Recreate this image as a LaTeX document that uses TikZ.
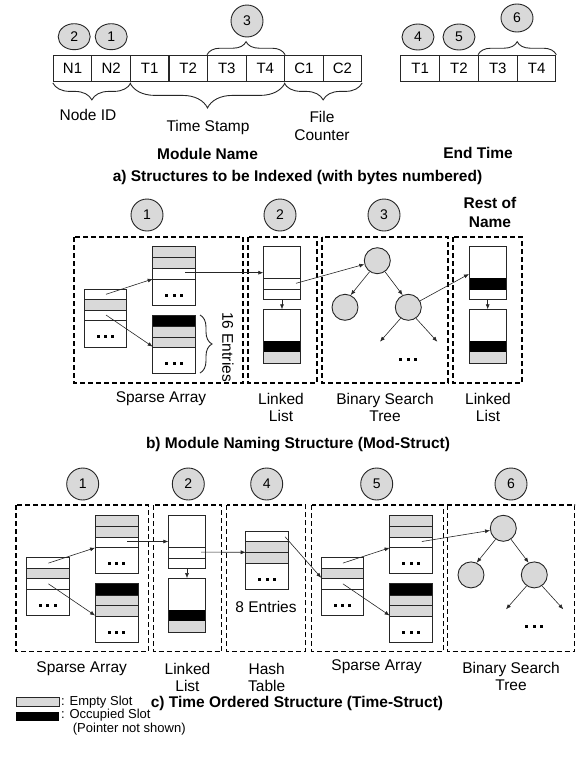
\documentclass[tikz,border=0pt]{standalone}
\usepackage{fontspec}
\setmainfont{Liberation Sans}
\usetikzlibrary{arrows.meta,decorations.pathreplacing,shapes.geometric}
\definecolor{slot}{HTML}{D9D9D9}
\definecolor{ink}{HTML}{262626}
\tikzset{
  box/.style={draw=ink, line width=0.9pt},
  dbox/.style={draw=black, line width=1.1pt, dash pattern=on 5pt off 3pt},
  conn/.style={draw=ink, line width=0.6pt, -{Latex[length=5pt,width=4pt]}},
  num/.style={circle, draw=ink, fill=slot, line width=0.9pt, minimum size=32pt, inner sep=0pt, font=\fontsize{14}{16}\selectfont},
  numov/.style={ellipse, draw=ink, fill=slot, line width=0.9pt, minimum width=32pt, minimum height=26pt, inner sep=0pt, font=\fontsize{14}{16}\selectfont},
  cell/.style={rectangle, draw=ink, line width=0.9pt, minimum width=38.6pt, minimum height=26.3pt, inner sep=0pt, font=\fontsize{15}{17}\selectfont},
  lbl/.style={font=\fontsize{15.5}{17}\selectfont, align=center, inner sep=0pt},
  ttl/.style={font=\fontsize{15.5}{19}\selectfont\bfseries, align=center, inner sep=0pt},
  leg/.style={font=\fontsize{13}{14}\selectfont, inner sep=0pt, anchor=west},
  brc/.style={decorate, decoration={brace, amplitude=#1}, draw=ink, line width=0.9pt},
  tnode/.style={circle, draw=ink, fill=slot, line width=0.9pt, minimum size=26pt, inner sep=0pt},
  threedots/.pic={\foreach \i in {-7.3,0,7.3} \fill[black] (\i-1.5,-1.5) rectangle (\i+1.5,1.5);}
}
% sparse array group: #1 shift, #2 prefix
\newcommand{\sparsegroup}[2]{%
\begin{scope}[shift={#1}]
  \fill[slot] (84.3,299.3) rectangle (126.7,310);
  \draw[box] (84.3,289) rectangle (126.7,347);
  \draw[box] (84.3,299.3) -- (126.7,299.3) (84.3,310) -- (126.7,310) (84.3,320.7) -- (126.7,320.7);
  \pic at (105.5,336.7) {threedots};
  \fill[slot] (152.7,246.7) rectangle (195.7,268.3);
  \draw[box] (152.7,246.7) rectangle (195.7,305);
  \draw[box] (152.7,257.7) -- (195.7,257.7) (152.7,268.3) -- (195.7,268.3) (152.7,279) -- (195.7,279);
  \pic at (174.2,295) {threedots};
  \fill[black] (152.7,315) rectangle (195.7,326.7);
  \fill[slot] (152.7,326.7) rectangle (195.7,347.3);
  \draw[box] (152.7,315) rectangle (195.7,373.3);
  \draw[box] (152.7,326.7) -- (195.7,326.7) (152.7,337) -- (195.7,337) (152.7,347.3) -- (195.7,347.3);
  \pic at (174.2,363.3) {threedots};
  \coordinate (#2s1) at (106,294.3);
  \coordinate (#2s3) at (106,315);
  \coordinate (#2ui) at (152.7,279);
  \coordinate (#2li) at (152.7,346.7);
  \coordinate (#2uo) at (185,272.7);
  \coordinate (#2sl) at (84.3,309);
  \draw[conn] (#2s1) -- (#2ui);
  \draw[conn] (#2s3) -- (#2li);
\end{scope}}
% linked list: #1 shift, #2 prefix, #3 top box has black row (1) or separators (0)
\newcommand{\llgroup}[3]{%
\begin{scope}[shift={#1}]
  \ifnum#3=1
    \fill[black] (263.3,278.3) rectangle (300.7,290);
  \else
    \draw[box] (263.3,278.7) -- (300.7,278.7) (263.3,289.3) -- (300.7,289.3);
  \fi
  \draw[box] (263.3,246.7) rectangle (300.7,299.3);
  \fill[black] (263.3,341) rectangle (300.7,352.3);
  \fill[slot] (263.3,352.3) rectangle (300.7,363.3);
  \draw[box] (263.3,309.3) rectangle (300.7,363.3);
  \coordinate (#2d1) at (282,299.3);
  \coordinate (#2d2) at (282,309.3);
  \coordinate (#2in) at (263.3,272.7);
  \coordinate (#2inb) at (263.3,274);
  \coordinate (#2out) at (296,283.3);
  \draw[conn] (#2d1) -- (#2d2);
\end{scope}}
% binary search tree: #1 shift, #2 prefix
\newcommand{\bstgroup}[2]{%
\begin{scope}[shift={#1}]
  \node[tnode] (#2r) at (377.3,260.7) {};
  \node[tnode] (#2a) at (345,307.3) {};
  \node[tnode] (#2b) at (408.3,307.3) {};
  \coordinate (#2p) at (380,341.7);
  \coordinate (#2q) at (437.3,341.7);
  \draw[conn] (#2r.235) -- (#2a.65);
  \draw[conn] (#2r.305) -- (#2b.115);
  \draw[conn] (#2b.235) -- (#2p);
  \draw[conn] (#2b.305) -- (#2q);
  \pic at (408,359) {threedots};
\end{scope}}
\begin{document}
\begin{tikzpicture}[x=1pt,y=-1pt]
\useasboundingbox (0,0) rectangle (576,758);
% ---------- a) ----------
\foreach \t/\nm [count=\i from 0] in {N1/n1,N2/n2,T1/t1,T2/t2,T3/t3,T4/t4,C1/c1,C2/c2}
  \node[cell] (\nm) at ({53.3+38.55*(\i+0.5)},68.3) {\t};
\foreach \t/\nm [count=\i from 0] in {T1/e1,T2/e2,T3/e3,T4/e4}
  \node[cell] (\nm) at ({400.7+38.83*(\i+0.5)},68.3) {\t};
\node[numov] (k2) at (74.2,36.7) {2};
\node[numov] (k1) at (111.2,36.7) {1};
\node[num] (k3) at (247,21) {3};
\node[numov] (k4) at (418,37) {4};
\node[numov] (k5) at (459,37) {5};
\node[numov, minimum height=28pt] (k6) at (517,18) {6};
\draw[brc=13pt] (t3.north west) -- (t4.north east);
\draw[brc=13pt] (e3.north west) -- (e4.north east);
\draw[brc=17pt] ([yshift=-1pt]n2.south east) -- ([yshift=-1pt]n1.south west);
\draw[brc=25pt] ([yshift=-1pt]t4.south east) -- ([yshift=-1pt]t1.south west);
\draw[brc=17pt] ([yshift=-1pt]c2.south east) -- ([yshift=-1pt]c1.south west);
\node[lbl] (nid) at (88,115) {Node ID};
\node[lbl] (tst) at (208,127) {Time Stamp};
\node[lbl, font=\fontsize{15.5}{18}\selectfont] (fct) at (322,126) {File\\Counter};
\node[ttl] (mnm) at (207.5,154) {Module Name};
\node[ttl] (etm) at (478,153) {End Time};
\node[ttl] (tia) at (297.5,177) {a) Structures to be Indexed (with bytes numbered)};
% ---------- b) ----------
\draw[dbox] (74,237) rectangle (243,383);
\draw[dbox] (248,237) rectangle (317,383);
\draw[dbox] (322,237) rectangle (448,383);
\draw[dbox] (453,237) rectangle (522,383);
\node[num] (b1) at (147,215) {1};
\node[num] (b2) at (280,215) {2};
\node[num] (b3) at (384,215) {3};
\node[ttl] (rest) at (490,212.5) {Rest of\\Name};
\sparsegroup{(0,0)}{bs}
\draw[brc=12pt] (200,315) -- (200,373);
\node[lbl, rotate=-90] (ent) at (228,347) {16 Entries};
\llgroup{(0,0)}{bl}{0}
\llgroup{(205.7,0)}{br}{1}
\bstgroup{(0,0)}{bt}
\draw[conn] (bsuo) -- (blin);
\draw[conn] (blout) -- (btr);
\draw[conn] (btb) -- (brinb);
\node[lbl] (lb1) at (161,399) {Sparse Array};
\node[lbl] (lb2) at (281,407.5) {Linked\\List};
\node[lbl] (lb3) at (385,407.5) {Binary Search\\Tree};
\node[lbl] (lb4) at (488,407.5) {Linked\\List};
\node[ttl] (tib) at (298,445) {b) Module Naming Structure (Mod-Struct)};
% ---------- c) ----------
\draw[dbox] (16,505) rectangle (148.3,651.7);
\draw[dbox] (153.3,505) rectangle (221.7,651.7);
\draw[dbox] (226.7,505) rectangle (305.7,651.7);
\draw[dbox] (311.7,505) rectangle (443.3,651.7);
\draw[dbox] (447.3,505) rectangle (574.8,651.7);
\node[num] (c1n) at (82.7,484) {1};
\node[num] (c2n) at (188.3,484) {2};
\node[num] (c4n) at (266.7,484) {4};
\node[num] (c5n) at (376.7,484) {5};
\node[num] (c6n) at (511,484) {6};
\sparsegroup{(-57.6,268.8)}{cs}
\llgroup{(-95,268.8)}{cl}{0}
% hash table
\fill[slot] (245.7,541.7) rectangle (288.3,563);
\draw[box] (245.7,531) rectangle (288.3,589.3);
\draw[box] (245.7,541.7) -- (288.3,541.7) (245.7,552.3) -- (288.3,552.3) (245.7,563) -- (288.3,563);
\pic at (267,579) {threedots};
\coordinate (hin) at (245.7,552.3);
\coordinate (hout) at (285,536.7);
\node[lbl] (ent8) at (266,607.3) {8 Entries};
\sparsegroup{(236.9,268.8)}{ct}
\bstgroup{(126,267.6)}{cb}
\draw[conn] (csuo) -- (clin);
\draw[conn] (clout) -- (hin);
\draw[conn] (hout) -- (ctsl);
\draw[conn] (ctuo) -- (cbr);
\node[lbl] (lc1) at (81.7,668.3) {Sparse Array};
\node[lbl] (lc2) at (187.5,677) {Linked\\List};
\node[lbl] (lc3) at (266.7,677) {Hash\\Table};
\node[lbl] (lc4) at (376.7,667) {Sparse Array};
\node[lbl] (lc5) at (511,676) {Binary Search\\Tree};
\node[ttl] (tic) at (297,703.3) {c) Time Ordered Structure (Time-Struct)};
% legend
\draw[box, fill=slot, line width=0.7pt] (16,697) rectangle (59.3,706.5);
\fill[black] (16,712.3) rectangle (59.3,720.7);
\node[leg] (le1) at (61,701.7) {: Empty Slot};
\node[leg] (le2) at (61,715.5) {: Occupied Slot};
\node[leg] (le3) at (72.7,729) {(Pointer not shown)};
\end{tikzpicture}
\end{document}
